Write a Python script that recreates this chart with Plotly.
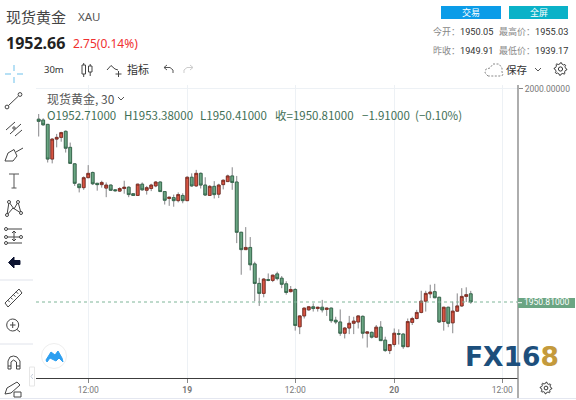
import math
import plotly.graph_objects as go

W, H = 576, 400

# ---------- data ----------
opens = [1993.0,1992.8,1991.8,1983.8,1988.4,1988.8,1990.2,1986.5,1982.7,1978.0,
         1977.2,1979.5,1980.7,1978.2,1977.9,1977.1,1977.8,1976.7,1976.4,1977.0,
         1977.3,1975.8,1975.4,1978.0,1976.6,1977.0,1977.6,1978.5,1976.3,1974.7,
         1974.9,1974.2,1975.4,1974.2,1979.6,1977.6,1980.5,1977.8,1975.4,1977.5,
         1975.7,1977.9,1978.6,1979.9,1978.5,1966.9,1962.9,1963.4,1959.6,1955.1,
         1952.8,1956.0,1955.8,1957.3,1956.3,1955.0,1953.2,1953.7,1945.1,1947.6,
         1949.0,1949.7,1949.3,1949.6,1949.1,1949.4,1946.6,1946.2,1943.6,1944.8,
         1945.9,1946.2,1947.5,1943.6,1943.8,1942.7,1945.0,1942.0,1939.6,1941.0,
         1943.5,1943.4,1940.5,1946.1,1947.0,1948.4,1951.0,1952.7,1953.2,1951.9,
         1946.3,1949.6,1946.0,1948.7,1949.9,1952.1,1952.7]
highs = [1994.2,1993.2,1991.9,1988.6,1989.6,1990.1,1990.4,1987.6,1982.8,1978.1,
         1979.8,1982.4,1980.9,1978.3,1978.8,1978.4,1977.9,1976.8,1977.3,1978.8,
         1977.5,1975.9,1978.1,1978.4,1977.6,1978.1,1978.7,1978.6,1976.4,1975.1,
         1975.6,1976.1,1975.9,1979.8,1980.5,1981.3,1980.7,1979.6,1977.8,1978.7,
         1978.1,1979.1,1980.2,1981.9,1979.9,1967.0,1968.1,1965.8,1960.1,1956.4,
         1956.3,1957.4,1957.1,1957.8,1956.8,1955.6,1954.5,1954.0,1947.7,1949.5,
         1949.9,1950.5,1949.7,1951.3,1949.5,1949.5,1947.4,1949.1,1945.0,1947.6,
         1947.4,1947.7,1947.7,1944.0,1944.0,1945.5,1946.4,1942.8,1941.1,1944.7,
         1944.5,1943.6,1947.0,1947.4,1949.0,1953.4,1953.4,1954.8,1955.0,1952.0,
         1949.7,1949.7,1950.9,1952.8,1954.0,1954.2,1953.38]
lows = [1989.0,1991.5,1983.0,1982.8,1986.5,1987.8,1985.3,1982.7,1977.6,1976.1,
        1976.7,1979.4,1977.8,1976.5,1977.2,1975.0,1976.5,1976.3,1976.2,1975.8,
        1975.0,1975.3,1975.3,1976.5,1975.6,1976.4,1977.3,1976.2,1973.3,1973.0,
        1972.8,1973.8,1973.6,1974.1,1977.4,1977.4,1977.0,1975.3,1975.3,1974.7,
        1974.8,1976.8,1978.5,1976.7,1964.4,1957.1,1962.8,1958.1,1951.0,1949.9,
        1951.9,1955.6,1955.4,1955.8,1954.0,1952.5,1953.0,1944.2,1943.4,1947.0,
        1948.8,1948.6,1948.6,1948.4,1947.6,1946.0,1945.7,1943.0,1942.4,1943.4,
        1943.4,1944.7,1942.4,1940.3,1942.4,1942.5,1941.9,1939.3,1938.8,1940.5,
        1941.0,1940.0,1940.4,1945.5,1946.8,1948.2,1948.6,1951.7,1951.7,1946.0,
        1944.2,1945.0,1943.6,1948.5,1949.7,1950.8,1950.41]
closes = [1992.5,1991.7,1983.8,1988.4,1988.8,1989.9,1986.3,1982.8,1978.2,1977.2,
          1979.5,1980.5,1978.1,1977.9,1978.4,1977.8,1976.6,1976.5,1977.0,1977.3,
          1975.6,1975.4,1978.0,1976.7,1977.2,1977.8,1978.5,1976.3,1974.3,1975.0,
          1974.2,1975.6,1974.2,1979.6,1977.6,1980.5,1977.8,1975.5,1977.5,1975.6,
          1977.8,1978.9,1979.9,1978.4,1966.9,1962.9,1963.4,1959.4,1955.1,1952.8,
          1956.1,1955.8,1957.0,1956.2,1954.9,1953.0,1953.7,1945.4,1947.6,1949.4,
          1949.7,1949.3,1949.6,1949.0,1949.4,1946.5,1946.2,1943.6,1944.8,1945.9,
          1946.4,1947.6,1943.6,1943.9,1942.7,1945.0,1941.9,1939.6,1941.0,1943.6,
          1943.4,1940.5,1946.3,1947.0,1948.4,1951.0,1952.8,1953.1,1951.8,1946.2,
          1949.6,1945.9,1948.7,1949.9,1952.1,1952.5,1950.81]
tick_positions = [11, 33, 57, 79, 103]
tick_labels = ["12:00", "<b>19</b>", "12:00", "<b>20</b>", "12:00"]
price_ticks = [2000]
price_tick_labels = ["2000.00000"]
last_price = 1950.81

x = list(range(len(closes)))
UP, DOWN = "#d75442", "#6ba583"
UP_B, DOWN_B = "#7a2a20", "#2f6346"
WICK = "#87878a"

CJK = "Noto Sans CJK SC"
fig = go.Figure()
fig.add_trace(go.Candlestick(x=x, open=opens, high=highs, low=lows, close=closes,
    whiskerwidth=0,
    increasing=dict(line=dict(color=WICK, width=1), fillcolor=UP),
    decreasing=dict(line=dict(color=WICK, width=1), fillcolor=DOWN),
    showlegend=False, hoverinfo="skip"))
fig.add_trace(go.Candlestick(x=x, open=opens, close=closes,
    high=[max(a, b) for a, b in zip(opens, closes)],
    low=[min(a, b) for a, b in zip(opens, closes)],
    whiskerwidth=0,
    increasing=dict(line=dict(color=UP_B, width=0.8), fillcolor=UP),
    decreasing=dict(line=dict(color=DOWN_B, width=0.8), fillcolor=DOWN),
    showlegend=False, hoverinfo="skip"))

# ---------- pixel helpers for the surrounding UI ----------
px = lambda v: v / W
py = lambda v: 1 - v / H
shapes, notes = [], []

def seg(x0, y0, x1, y1, color="#444", w=1, dash=None):
    shapes.append(dict(type="line", xref="paper", yref="paper", x0=px(x0), y0=py(y0),
                       x1=px(x1), y1=py(y1), line=dict(color=color, width=w, dash=dash or "solid")))

def rect(x0, y0, x1, y1, fill="rgba(0,0,0,0)", color="rgba(0,0,0,0)", w=1):
    shapes.append(dict(type="rect", xref="paper", yref="paper", x0=px(x0), y0=py(y0),
                       x1=px(x1), y1=py(y1), fillcolor=fill, line=dict(color=color, width=w)))

def circ(cx, cy, r, fill="rgba(0,0,0,0)", color="#444", w=1):
    shapes.append(dict(type="circle", xref="paper", yref="paper", x0=px(cx-r), y0=py(cy-r),
                       x1=px(cx+r), y1=py(cy+r), fillcolor=fill, line=dict(color=color, width=w)))

def poly(pts, fill="rgba(0,0,0,0)", color="#444", w=1, close=False, dash=None):
    d = "M" + " L".join(f"{px(a):.5f},{py(b):.5f}" for a, b in pts) + (" Z" if close else "")
    shapes.append(dict(type="path", xref="paper", yref="paper", path=d, fillcolor=fill,
                       line=dict(color=color, width=w, dash=dash or "solid")))

def text(x0, y0, s, size=11, color="#333", anchor="left", font=CJK):
    notes.append(dict(xref="paper", yref="paper", x=px(x0), y=py(y0), text=s, showarrow=False,
                      xanchor=anchor, yanchor="middle", align=anchor, borderpad=0, borderwidth=0,
                      font=dict(size=size, color=color, family=font)))

def gear(cx, cy, r):
    pts = []
    for i in range(40):
        a = i * 2 * math.pi / 40
        rr = r + (1.3 if i % 5 in (0, 1) else 0)
        pts.append((cx + rr * math.cos(a), cy + rr * math.sin(a)))
    poly(pts, color="#333", close=True)
    circ(cx, cy, r * 0.42, color="#333")

# header
text(6, 16, "现货黄金", 15, "#444")
text(78, 17, "XAU", 11.5, "#555", font="Noto Sans")
text(6, 43, "<b>1952.66</b>", 16, "#222", font="Noto Sans")
text(73, 44, "2.75(0.14%)", 12, "#f03030", font="Noto Sans")
rect(441, 6, 501, 19, fill="#0b9ce8")
rect(509, 6, 568, 19, fill="#0ab2c8")
text(471, 13, "交易", 9, "#fff", "center")
text(538.5, 13, "全屏", 9, "#fff", "center")
text(460, 32, "今开：", 9, "#888", "right")
text(460, 32, "1950.05", 9.2, "#333", font="Roboto")
text(535, 32, "最高价：", 9, "#888", "right")
text(535, 32, "1955.03", 9.2, "#333", font="Roboto")
text(460, 50, "昨收：", 9, "#888", "right")
text(460, 50, "1949.91", 9.2, "#333", font="Roboto")
text(535, 50, "最低价：", 9, "#888", "right")
text(535, 50, "1939.17", 9.2, "#333", font="Roboto")

# top toolbar
text(44, 69, "30m", 9.5, "#333", font="Noto Sans")
rect(82, 65, 85.5, 74, color="#444"); seg(83.7, 63, 83.7, 65); seg(83.7, 74, 83.7, 77)
rect(88.5, 66, 92, 72, color="#444"); seg(90.2, 64, 90.2, 66); seg(90.2, 72, 90.2, 76)
poly([(107, 70), (111, 65.5), (115, 69), (118, 70)], color="#444")
seg(118.5, 71, 118.5, 77); seg(115.5, 74, 121.5, 74)
text(127, 69, "指标", 11, "#333")
poly([(173, 73), (173, 70), (170, 67.5), (164, 67.5)], color="#555")
poly([(167, 65), (164, 67.5), (167, 70)], color="#555")
poly([(184, 73), (184, 70), (187, 67.5), (193, 67.5)], color="#ccc")
poly([(190, 65), (193, 67.5), (190, 70)], color="#ccc")
poly([(488, 76), (485, 73), (486, 69), (490, 68), (493, 64), (499, 64), (502, 68), (502, 72), (503, 75), (500, 76), (488, 76)],
     color="#888", dash="2px,1.5px")
text(506, 69, "保存", 10.5, "#333")
poly([(535, 68), (538, 71), (541, 68)], color="#555")
gear(560.5, 69, 5)

# left toolbar
for a, b, c, d in [(5, 74, 11, 74), (17, 74, 23, 74), (14, 65, 14, 71), (14, 77, 14, 83)]:
    seg(a, b, c, d, "#8fcff0", 1.3)
seg(8.5, 105.5, 18.5, 96); circ(7, 107, 1.9); circ(20, 94.5, 1.9)
seg(6, 130, 15, 122); seg(10, 134, 21, 124); seg(15, 136, 22, 130); circ(14, 128, 1.2)
poly([(5, 161), (8, 153), (14, 149.5), (17, 156), (13, 161), (5, 161)], color="#444")
seg(16, 152, 23, 148)
seg(9, 174, 19, 174, "#555"); seg(14, 174, 14, 188, "#555"); seg(11.5, 188, 16.5, 188, "#555")
poly([(7, 215), (9, 202), (14, 209), (18, 202), (21, 213), (13, 208), (7, 215)], color="#444")
for a, b in [(7, 215), (9, 202), (18, 202), (21, 213)]:
    circ(a, b, 1.5, fill="#fff")
seg(7, 229, 22, 229); seg(7, 237, 20, 237); seg(7, 243, 22, 243)
seg(14, 231, 14, 241)
poly([(12, 233), (14, 231), (16, 233)]); poly([(12, 239), (14, 241), (16, 239)])
circ(6, 229, 1.5); circ(6, 237, 1.5); circ(21, 237, 1.5); circ(6, 243, 1.5)
poly([(14, 257), (8.5, 262.5), (14, 268), (14, 264.5), (20, 264.5), (20, 260.5), (14, 260.5)],
     fill="#0c1330", color="#0c1330", close=True)
seg(0, 280, 33, 280, "#e0e3eb")
poly([(5, 303), (19, 289), (22, 293), (8, 307)], color="#444", close=True)
for t in (0.2, 0.4, 0.6, 0.8):
    seg(5 + 14 * t, 303 - 14 * t, 7 + 14 * t, 305 - 14 * t, "#444")
circ(12.7, 325, 6)
seg(17, 329.5, 20, 332); seg(10, 325, 15.5, 325); seg(12.7, 322, 12.7, 328)
seg(0, 344, 33, 344, "#e0e3eb")
poly([(8, 369), (8, 361), (10, 357), (13.5, 356), (17, 357), (20, 361), (20, 369), (16.5, 369), (16.5, 362), (13.5, 360),
      (11, 362), (11, 369)], color="#444", close=True)
seg(8, 366, 11, 366); seg(16.5, 366, 20, 366)
poly([(5, 394), (7, 388), (17, 382), (20, 385), (11, 393)], color="#444", close=True)
rect(14, 392, 21, 397, color="#444")
rect(29.5, 367, 34.5, 386, fill="#fff", color="#e6e6e6")
poly([(32.8, 374), (31, 376.5), (32.8, 379)], color="#c7d0de")
circ(54, 356, 12.5, fill="#fff", color="#eeeeee")
poly([(46, 360), (51, 352), (55, 355), (58, 351), (62, 358), (63, 362), (59, 358), (56, 361), (50, 358), (47, 362)],
     fill="#2d9ff0", color="#2d9ff0", close=True)

# chart frame decorations
seg(518, 85, 518, 399, "#8b8b8b", 1.4)
seg(0, 398.5, 576, 398.5, "#e4e7f0")
shapes.append(dict(type="line", xref="paper", yref="y", x0=px(36), x1=px(518), y0=last_price, y1=last_price,
                   line=dict(color="#7fb598", width=1, dash="dot")))
rect(518, 298, 575, 308, fill=DOWN)
seg(518, 302.7, 522, 302.7, "#ffffff")
notes.append(dict(xref="paper", yref="y", x=px(546), y=last_price, text=f"{last_price:.5f}", showarrow=False,
                  xanchor="center", yanchor="middle", font=dict(size=8.5, color="#fff", family="Roboto")))
gear(546, 388, 4.5)

# legend lines
LEGEND = "#3f6f56"
text(47, 98, "现货黄金, 30", 12, "#555")
poly([(118, 97), (121, 100), (124, 97)], color="#555")
for pos, chunk in [(47, "O1952.71000"), (124, "H1953.38000"), (200, "L1950.41000"),
                   (275, "收=1950.81000"), (362, "−1.91000"), (415, "(−0.10%)")]:
    text(pos, 114.5, chunk, 11.5, LEGEND)

# logo
text(465, 356, "<b>FX16<span style=\"color:#c49a3c\">8</span></b>", 26.5, "#1d4f7c", font="DejaVu Sans")

fig.update_layout(
    width=W, height=H, margin=dict(l=0, r=0, t=0, b=0, pad=0), autosize=False,
    paper_bgcolor="#fff", plot_bgcolor="#fff", showlegend=False,
    boxgap=0.12, boxmode="overlay",
    shapes=shapes, annotations=notes,
    xaxis=dict(domain=[px(36), px(518)], range=[-0.6, 106.5], tickmode="array", tickvals=tick_positions,
               automargin=False,
               ticktext=tick_labels, rangeslider=dict(visible=False), showgrid=True, gridcolor="#edf1f5", gridwidth=1,
               zeroline=False, showline=True, linecolor="#3c3c3c", linewidth=1, ticks="outside", ticklen=4,
               tickcolor="#888", tickfont=dict(size=8.5, color="#777", family="Roboto")),
    yaxis=dict(domain=[1 - 378 / H, 1 - 85 / H], range=[1933.27, 2000.89], side="right", anchor="x",
               automargin=False,
               tickmode="array", tickvals=price_ticks, ticktext=price_tick_labels, showgrid=True,
               gridcolor="#edf1f5", zeroline=False, showline=False, ticks="outside", ticklen=4, tickcolor="#888",
               tickfont=dict(size=8.5, color="#777", family="Roboto")),
)
fig.write_html("out.html", config={"displayModeBar": False},
               post_script="document.body.style.margin='0';document.body.style.overflow='hidden';")
